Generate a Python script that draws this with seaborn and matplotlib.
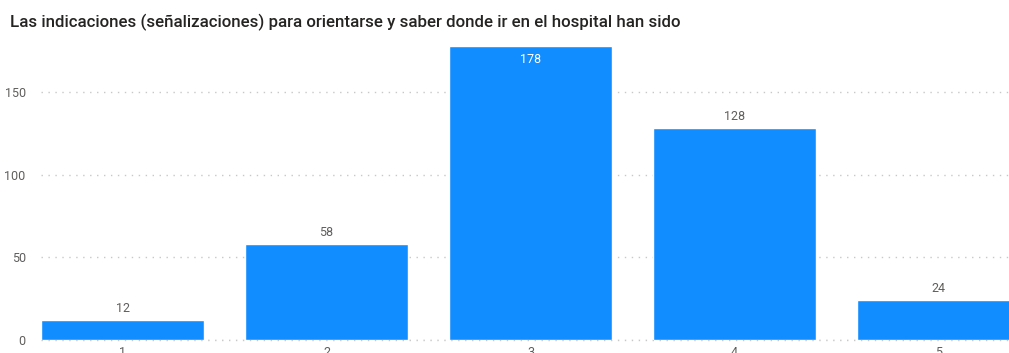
import matplotlib
matplotlib.use("Agg")
import matplotlib.pyplot as plt
import seaborn as sns
import pandas as pd

categories = ["1", "2", "3", "4", "5"]
counts = [12, 58, 178, 128, 24]
y_ticks = [0, 50, 100, 150]
title = "Las indicaciones (señalizaciones) para orientarse y saber donde ir en el hospital han sido"

sns.set_theme(style="white")
plt.rcParams["font.family"] = ["Roboto", "DejaVu Sans"]

df = pd.DataFrame({"cat": categories, "n": counts})

fig = plt.figure(figsize=(10.09, 3.53), dpi=100)
ax = fig.add_axes([41 / 1009, 13 / 353, 1 - 41 / 1009, (340 - 45) / 353])

sns.barplot(data=df, x="cat", y="n", color="#118DFF", width=0.8,
            saturation=1, ax=ax, zorder=3)

ax.set_xlim(-0.4, 4.346)
ax.set_ylim(0, 178.4)
ax.set_yticks(y_ticks)
ax.grid(axis="y", linestyle=(0, (1, 4)), color="#C8C8C8", linewidth=1, zorder=0)
ax.axhline(0, linestyle=(0, (1, 4)), color="#C8C8C8", linewidth=1, zorder=0, clip_on=False)
for s in ax.spines.values():
    s.set_visible(False)
ax.set_xlabel("")
ax.set_ylabel("")
ax.tick_params(axis="y", length=0, pad=11, labelsize=9, labelcolor="#605E5C")
ax.tick_params(axis="x", length=0, pad=4, labelsize=9, labelcolor="#605E5C")

ymax = ax.get_ylim()[1]
for i, v in enumerate(counts):
    if v > ymax * 0.9:
        ax.annotate(str(v), (i, v), xytext=(0, -14), textcoords="offset pixels",
                    ha="center", va="center", fontsize=9, color="white", zorder=5)
    else:
        ax.annotate(str(v), (i, v), xytext=(0, 12), textcoords="offset pixels",
                    ha="center", va="center", fontsize=9, color="#605E5C", zorder=5)

fig.text(10 / 1009, 1 - 22 / 353, title, ha="left", va="center",
         fontsize=12.2, fontweight="medium", color="#252423")

fig.savefig("out.png", dpi=100)
